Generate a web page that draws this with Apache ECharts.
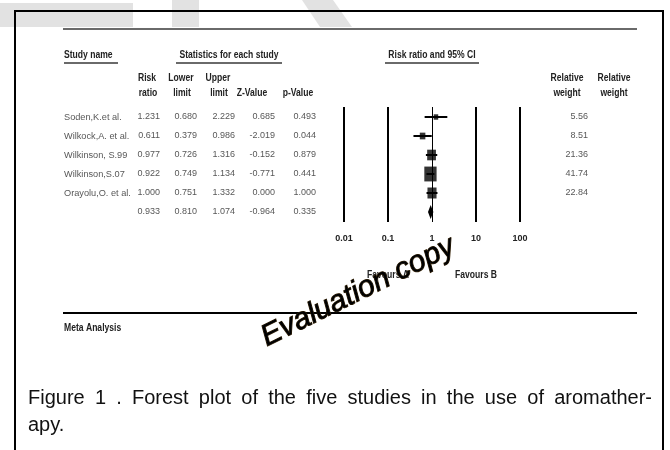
<!DOCTYPE html>
<html>
<head>
<meta charset="utf-8">
<script src="https://cdn.jsdelivr.net/npm/echarts@6/dist/echarts.min.js"></script>
<style>
html, body { margin: 0; padding: 0; background: #fff; }
#chart { width: 670px; height: 450px; }
</style>
</head>
<body>
<div id="chart"></div>
<script>
// study rows
var studies = ['Soden,K.et al.', 'Wilkock,A. et al.', 'Wilkinson, S.99', 'Wilkinson,S.07', 'Orayolu,O. et al.']
var riskRatio = [1.231, 0.611, 0.977, 0.922, 1.000]
var lowerLimit = [0.680, 0.379, 0.726, 0.749, 0.751]
var upperLimit = [2.229, 0.986, 1.316, 1.134, 1.332]
var zValue = [0.685, -2.019, -0.152, -0.771, 0.000]
var pValue = [0.493, 0.044, 0.879, 0.441, 1.000]
var relWeight = [5.56, 8.51, 21.36, 41.74, 22.84]
// pooled row: risk ratio, lower, upper, z, p
var pooled = [0.933, 0.810, 1.074, -0.964, 0.335]
// log axis ticks
var tickValues = [0.01, 0.1, 1, 10, 100]
var tickLabels = ['0.01', '0.1', '1', '10', '100']

var SANS = '"Liberation Sans", Arial, sans-serif'
var yMin = -10 / 19
var yMax = 5 + 10 / 19

var chart = echarts.init(document.getElementById('chart'))

// table cell series (right aligned numbers)
function columnSeries(xPos, values, pooledVal, digits) {
	var data = values.map(function (v, i) {
		return [xPos, i, v.toFixed(digits)]
	})
	if (pooledVal !== null) data.push([xPos, 5, pooledVal.toFixed(digits)])
	return {
		type: 'scatter',
		xAxisIndex: 1,
		yAxisIndex: 1,
		symbolSize: 0,
		silent: true,
		data: data,
		label: {
			show: true,
			position: 'left',
			distance: 0,
			formatter: function (p) { return p.value[2] },
			fontFamily: SANS,
			fontSize: 9,
			color: '#2a2a2a',
		},
	}
}

var nameSeries = {
	type: 'scatter',
	xAxisIndex: 1,
	yAxisIndex: 1,
	symbolSize: 0,
	silent: true,
	data: studies.map(function (s, i) { return [64, i, s] }),
	label: {
		show: true,
		position: 'right',
		distance: 0,
		formatter: function (p) { return p.value[2] },
		fontFamily: SANS,
		fontSize: 9.2,
		color: '#2a2a2a',
	},
}

// confidence interval bars
var ciSeries = {
	type: 'custom',
	xAxisIndex: 0,
	yAxisIndex: 0,
	silent: true,
	data: lowerLimit.map(function (l, i) { return [l, upperLimit[i], i] }),
	encode: { x: [0, 1], y: 2 },
	renderItem: function (params, api) {
		var a = api.coord([api.value(0), api.value(2)])
		var b = api.coord([api.value(1), api.value(2)])
		return {
			type: 'line',
			shape: { x1: a[0], y1: a[1], x2: b[0], y2: b[1] },
			style: { stroke: '#000', lineWidth: 2 },
		}
	},
}

// pooled diamond
var diamondSeries = {
	type: 'custom',
	xAxisIndex: 0,
	yAxisIndex: 0,
	silent: true,
	data: [[pooled[1], pooled[0], pooled[2], 5]],
	encode: { x: [0, 2], y: 3 },
	renderItem: function (params, api) {
		var l = api.coord([api.value(0), api.value(3)])
		var c = api.coord([api.value(1), api.value(3)])
		var u = api.coord([api.value(2), api.value(3)])
		var h = 7
		return {
			type: 'polygon',
			shape: { points: [[l[0], c[1]], [c[0], c[1] - h], [u[0], c[1]], [c[0], c[1] + h]] },
			style: { fill: '#000' },
		}
	},
}

var squareSeries = {
	type: 'scatter',
	xAxisIndex: 0,
	yAxisIndex: 0,
	symbol: 'rect',
	silent: true,
	z: 5,
	itemStyle: { color: '#000' },
	data: riskRatio.map(function (r, i) { return [r, i, relWeight[i]] }),
	symbolSize: function (val) {
		var s = Math.sqrt(val[2])
		return [1.9 * s, 2.3 * s]
	},
	markLine: {
		silent: true,
		symbol: ['none', 'none'],
		label: { show: false },
		lineStyle: { color: '#000', type: 'solid', width: 2 },
		data: tickValues.map(function (t) {
			return { xAxis: t, lineStyle: { width: t === 1 ? 1 : 2 } }
		}),
	},
}

var weightSeries = {
	type: 'scatter',
	xAxisIndex: 1,
	yAxisIndex: 1,
	symbolSize: 0,
	silent: true,
	data: relWeight.map(function (w, i) { return [588, i, w.toFixed(2)] }),
	label: {
		show: true,
		position: 'left',
		distance: 0,
		formatter: function (p) { return p.value[2] },
		fontFamily: SANS,
		fontSize: 9,
		color: '#2a2a2a',
	},
}

// condensed bold header text (no narrow font installed, so squeeze it)
function txt(x, y, text, align) {
	return {
		type: 'text',
		x: x,
		y: y,
		scaleX: 0.78,
		z: 10,
		style: {
			text: text,
			font: 'bold 11px ' + SANS,
			fill: '#222',
			textAlign: align || 'left',
			textVerticalAlign: 'middle',
		},
	}
}

function hline(x1, x2, y, color, w) {
	return {
		type: 'line',
		shape: { x1: x1, y1: y, x2: x2, y2: y },
		style: { stroke: color, lineWidth: w },
		z: 10,
	}
}

// justified caption line
function captionWords(line, x1, x2, y) {
	var ctx = document.createElement('canvas').getContext('2d')
	var font = '20px ' + SANS
	ctx.font = font
	var words = line.split(' ')
	var widths = words.map(function (w) { return ctx.measureText(w).width })
	var total = widths.reduce(function (a, b) { return a + b }, 0)
	var gap = (x2 - x1 - total) / (words.length - 1)
	var x = x1
	return words.map(function (w, i) {
		var el = { type: 'text', x: x, y: y, z: 10, style: { text: w, font: font, fill: '#111', textVerticalAlign: 'middle' } }
		x += widths[i] + gap
		return el
	})
}

var graphics = [
	// faded background letters
	{ type: 'rect', shape: { x: 0, y: 3, width: 133, height: 24 }, style: { fill: '#e2e2e2' }, z: 1 },
	{ type: 'rect', shape: { x: 172, y: 0, width: 27, height: 27 }, style: { fill: '#e2e2e2' }, z: 1 },
	{ type: 'polygon', shape: { points: [[302, 0], [333, 0], [352, 27], [320, 27]] }, style: { fill: '#e2e2e2' }, z: 1 },
	// frame
	{ type: 'rect', shape: { x: 15, y: 11, width: 648, height: 470 }, style: { fill: null, stroke: '#000', lineWidth: 2 }, z: 9 },
	hline(63, 637, 29, '#6a6a6a', 2),
	txt(64, 55, 'Study name'),
	hline(64, 118, 63, '#6a6a6a', 2),
	txt(229, 55, 'Statistics for each study', 'center'),
	hline(176, 282, 63, '#6a6a6a', 2),
	txt(432, 55, 'Risk ratio and 95% CI', 'center'),
	hline(385, 479, 63, '#6a6a6a', 2),
	txt(147, 78, 'Risk', 'center'),
	txt(148, 93, 'ratio', 'center'),
	txt(181, 78, 'Lower', 'center'),
	txt(182, 93, 'limit', 'center'),
	txt(218, 78, 'Upper', 'center'),
	txt(219, 93, 'limit', 'center'),
	txt(252, 93, 'Z-Value', 'center'),
	txt(298, 93, 'p-Value', 'center'),
	txt(567, 78, 'Relative', 'center'),
	txt(567, 93, 'weight', 'center'),
	txt(614, 78, 'Relative', 'center'),
	txt(614, 93, 'weight', 'center'),
	txt(388, 275, 'Favours A', 'center'),
	txt(476, 275, 'Favours B', 'center'),
	hline(63, 637, 313, '#000', 2),
	txt(64, 328, 'Meta Analysis'),
	{ type: 'text', x: 28, y: 425, z: 10, style: { text: 'apy.', font: '20px ' + SANS, fill: '#111', textVerticalAlign: 'middle' } },
	// watermark
	{
		type: 'text', x: 358, y: 292, rotation: 0.46, z: 100,
		style: {
			text: 'Evaluation copy',
			font: 'italic 30px ' + SANS,
			fill: '#000',
			stroke: '#3a2608',
			lineWidth: 1,
			textAlign: 'center',
			textVerticalAlign: 'middle',
		},
	},
].concat(captionWords('Figure 1 . Forest plot of the five studies in the use of aromather-', 28, 652, 398))

var option = {
	backgroundColor: '#fff',
	animation: false,
	graphic: graphics,
	grid: [
		{ left: 344, top: 107, width: 176, height: 115, outerBoundsMode: 'none' },
		{ left: 0, top: 107, width: 670, height: 115, outerBoundsMode: 'none' },
	],
	xAxis: [
		{
			type: 'log',
			logBase: 10,
			gridIndex: 0,
			min: 0.01,
			max: 100,
			axisLine: { show: false },
			axisTick: { show: false },
			splitLine: { show: false },
			axisLabel: {
				margin: 12,
				fontFamily: SANS,
				fontWeight: 'bold',
				fontSize: 9,
				color: '#222',
				formatter: function (v) {
					return tickLabels[Math.round(Math.log10(v)) + 2]
				},
			},
		},
		{ type: 'value', gridIndex: 1, min: 0, max: 670, show: false },
	],
	yAxis: [
		{ type: 'value', gridIndex: 0, inverse: true, min: yMin, max: yMax, show: false },
		{ type: 'value', gridIndex: 1, inverse: true, min: yMin, max: yMax, show: false },
	],
	series: [
		nameSeries,
		columnSeries(160, riskRatio, pooled[0], 3),
		columnSeries(197, lowerLimit, pooled[1], 3),
		columnSeries(235, upperLimit, pooled[2], 3),
		columnSeries(275, zValue, pooled[3], 3),
		columnSeries(316, pValue, pooled[4], 3),
		weightSeries,
		ciSeries,
		squareSeries,
		diamondSeries,
	],
}

chart.setOption(option)
window.addEventListener('resize', chart.resize)
</script>
</body>
</html>
